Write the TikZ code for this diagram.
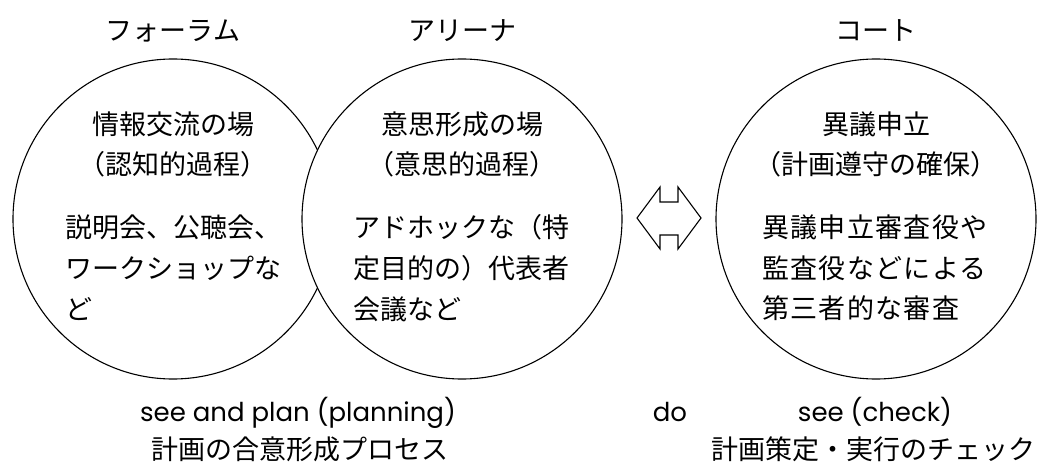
\documentclass[tikz,border=0pt]{standalone}
\usepackage{fontspec}
\setmainfont{Noto Sans CJK JP}
\newfontfamily\latinfont{Poppins}
\begin{document}
\begin{tikzpicture}[x=1pt,y=-1pt,
  jp/.style={font=\fontsize{27}{40}\selectfont, anchor=base, inner sep=0pt},
  jpl/.style={jp, anchor=base west},
  jpw/.style={jpl, font=\fontsize{27}{40}\selectfont\addfontfeature{LetterSpace=5}},
  lat/.style={font=\latinfont\fontsize{26}{30}\selectfont, anchor=base, inner sep=0pt},
  ring/.style={circle, draw, fill=white, line width=1.1pt, minimum size=320pt, inner sep=0pt},
  dbl/.style={draw, line width=1.1pt, line join=miter}]
\useasboundingbox (0,0) rectangle (1046,462);
\fill[white] (0,0) rectangle (1046,462);
% circles
\node[ring] (forum) at (173,219) {};
\node[ring] (arena) at (462,219) {};
\node[ring] (court) at (876,219) {};
% titles
\node[jp] (tf) at (173,41) {フォーラム};
\node[jp] (ta) at (462,41) {アリーナ};
\node[jp] (tc) at (876,41) {コート};
% forum text
\node[jp] (f1) at (173,135) {情報交流の場};
\node[jp] (f2) at (173,175) {（認知的過程）};
\node[jpl] (f3) at (65,238) {説明会、公聴会、};
\node[jpl] (f4) at (65,278) {ワークショップな};
\node[jpl] (f5) at (65,319) {ど};
% arena text
\node[jp] (a1) at (462,135) {意思形成の場};
\node[jp] (a2) at (462,175) {（意思的過程）};
\node[jpl] (a3) at (353,238) {アドホックな（特};
\node[jpl] (a4) at (353,278) {定目的の）代表者};
\node[jpl] (a5) at (353,319) {会議など};
% court text
\node[jp] (c1) at (876,135) {異議申立};
\node[jp] (c2) at (876,175) {（計画遵守の確保）};
\node[jpw] (c3) at (762,238) {異議申立審査役や};
\node[jpw] (c4) at (762,278) {監査役などによる};
\node[jpw] (c5) at (762,318) {第三者的な審査};
% double arrow
\draw[dbl] (660,187) -- (660,202) -- (678,202) -- (678,187) -- (701,218) -- (678,249)
  -- (678,235) -- (660,235) -- (660,249) -- (637,218) -- cycle;
% bottom labels
\node[lat] (b1) at (298,421) {see and plan (planning)};
\node[jp] (b2) at (300,459) {計画の合意形成プロセス};
\node[lat] (b3) at (670,421) {do};
\node[lat] (b4) at (875,421) {see (check)};
\node[jp] (b5) at (873,459) {計画策定・実行のチェック};
\end{tikzpicture}
\end{document}
